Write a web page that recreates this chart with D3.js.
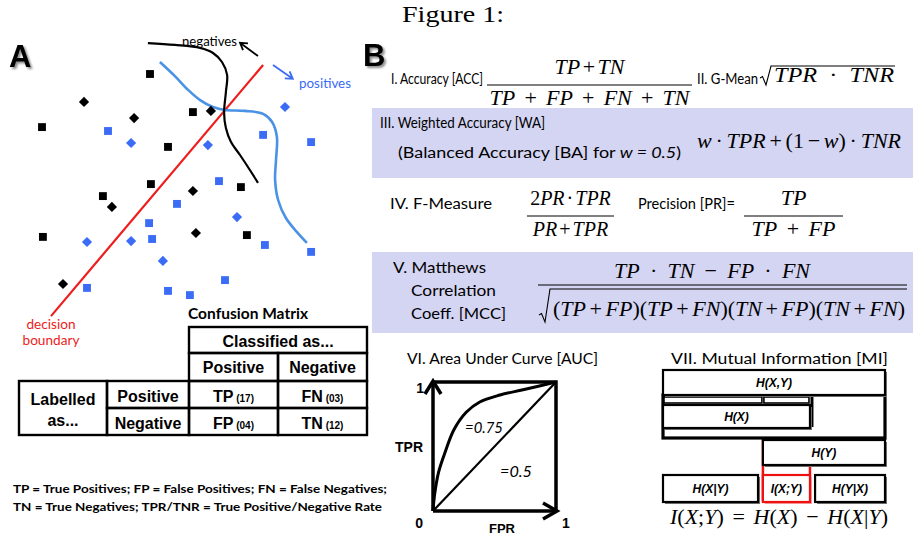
<!DOCTYPE html>
<html>
<head>
<meta charset="utf-8">
<script src="https://cdn.jsdelivr.net/npm/d3@7"></script>
<style>
  body { margin: 0; background: #fff; }
  svg { display: block; }
  text { white-space: pre; }
</style>
</head>
<body>
<svg id="fig" width="913" height="535"></svg>
<script>
// ---- panel A: feature space points (x, y in arbitrary 0-100 units)
const negSquares = [[40,82],[4,64.3],[54.3,69.3],[46,57.7],[40.3,45.3],[24.3,41.3],[70.3,44.3],[4.3,27.7],[72.3,28.3]];
const negDiamonds = [[18,72.7],[34.7,67.3],[60.3,69.7],[27.3,37.7],[54.3,43],[55.3,29],[11,12]];
const posSquares = [[26,63],[77.7,61.7],[93.7,59.3],[63,46.3],[49,38.7],[39.7,32.3],[40.7,27],[78.3,25],[93.7,22.7],[19,10.7],[65,13.3],[46,9.7],[53.3,8.3]];
const posDiamonds = [[85,71],[33.7,59],[59.3,58.3],[69,34.3],[19,26],[33.7,26.3],[44.3,19.7]];
const boundary = [[7,1.3],[77.7,85]];
const negCurve = [[39.3,92.3],[48.3,91.7],[56.7,90.7],[61,89],[64,86],[65.7,81.7],[65.3,76],[64.7,69],[65.3,64],[67,59.3],[70,55],[73.3,50],[76,45.7]];
const posCurve = [[43.3,86],[48.3,81.3],[52.7,76.7],[56.7,73.3],[61,71],[65,70],[71.7,69.7],[77.7,68.7],[80.7,66],[82.3,61],[82,53.3],[81.7,46.7],[82.7,40],[85.3,34],[89,29.3],[92.3,25.7]];

// ---- confusion matrix
const classLabels = ["Positive", "Negative"];
const cellCodes = [["TP", "FN"], ["FP", "TN"]];
const cellCounts = [["17", "03"], ["04", "12"]];

// ---- ROC curve (FPR, TPR)
const rocCurve = [[0,0],[0.012,0.12],[0.045,0.3],[0.1,0.46],[0.17,0.63],[0.27,0.765],[0.38,0.845],[0.545,0.899],[0.732,0.94],[1,1]];
const rocChance = [[0,0],[1,1]];

// ---- mutual information boxes (entropy as share of H(X,Y))
const miLabels = ["H(X,Y)", "H(X)", "H(Y)", "H(X|Y)", "I(X;Y)", "H(Y|X)"];
const miFrom = [0, 0, 0.45, 0, 0.45, 0.685];
const miTo = [1, 0.662, 1, 0.428, 0.662, 1];
const miRow = [0, 1, 2, 3, 3, 3];

const svg = d3.select("#fig");
const SANS = "Lato, 'Open Sans', sans-serif";
const ARIAL = "'Liberation Sans', Arial, sans-serif";
const SERIF = "'Liberation Serif', 'Times New Roman', serif";
const BLUE = "#3a6cf6";
const LAV = "#d4d4f3";

const defs = svg.append("defs");
defs.append("filter").attr("id", "shadow").attr("x", "-20%").attr("y", "-20%")
  .attr("width", "150%").attr("height", "150%")
  .append("feDropShadow").attr("dx", 2).attr("dy", 2).attr("stdDeviation", 1.2)
  .attr("flood-color", "#000").attr("flood-opacity", 0.45);

// plain text helper
function txt(g, s, x, y, o) {
  o = o || {};
  const t = g.append("text").attr("x", x).attr("y", y)
    .attr("font-family", o.family || SANS)
    .attr("font-size", o.size || 14)
    .attr("font-weight", o.weight || "normal")
    .attr("font-style", o.italic ? "italic" : "normal")
    .attr("text-anchor", o.anchor || "start")
    .attr("fill", o.fill || "#000")
    .text(s);
  if (o.len) t.attr("textLength", o.len).attr("lengthAdjust", "spacingAndGlyphs");
  return t;
}

// math helper: letters italic, digits & operators upright;
// width is fitted first through the spaces, then (a little) through the glyphs
function math(g, s, x, y, o) {
  o = o || {};
  const size = o.size || 22;
  const t = g.append("text").attr("x", x).attr("y", y)
    .attr("font-family", SERIF).attr("font-size", size)
    .attr("text-anchor", o.anchor || "start").attr("fill", "#000");
  s.split(/([A-Za-z]+)/).filter(d => d.length).forEach(d => {
    t.append("tspan").attr("font-style", /[A-Za-z]/.test(d) ? "italic" : "normal").text(d);
  });
  if (o.len) {
    const w = t.node().getComputedTextLength();
    const n = (s.match(/ /g) || []).length;
    let ws = n ? (o.len - w) / n : 0;
    ws = Math.max(-0.15 * size, Math.min(0.25 * size, ws));
    t.style("word-spacing", ws + "px");
    const w2 = t.node().getComputedTextLength();
    if (Math.abs(w2 - o.len) > 3) t.attr("textLength", o.len).attr("lengthAdjust", "spacingAndGlyphs");
  }
  return t;
}

function frac(g, num, den, x0, x1, yBar, o) {
  o = o || {};
  const cx = (x0 + x1) / 2;
  g.append("line").attr("x1", x0).attr("x2", x1).attr("y1", yBar).attr("y2", yBar)
    .attr("stroke", "#000").attr("stroke-width", 1);
  math(g, num, cx, yBar - 11, {anchor: "middle", size: o.size, len: o.numLen});
  math(g, den, cx, yBar + 20, {anchor: "middle", size: o.size, len: o.denLen});
}

function radical(g, x0, yTop, yBot, x1) {
  const p = d3.path();
  p.moveTo(x0, yBot - 7);
  p.lineTo(x0 + 2.5, yBot - 8.5);
  p.lineTo(x0 + 6, yBot);
  p.lineTo(x0 + 11, yTop);
  p.lineTo(x1, yTop);
  g.append("path").attr("d", p.toString()).attr("fill", "none")
    .attr("stroke", "#000").attr("stroke-width", 1.1);
}

// title
txt(svg, "Figure 1:", 402, 22, {family: SERIF, size: 24, len: 102});

// ================= Panel A =================
const A = svg.append("g");
txt(A, "A", 9, 67, {family: ARIAL, size: 31, weight: "bold"}).attr("filter", "url(#shadow)");

const ax = d3.scaleLinear().domain([0, 100]).range([30, 330]);
const ay = d3.scaleLinear().domain([0, 100]).range([320, 20]);
const curve = d3.line().x(d => ax(d[0])).y(d => ay(d[1])).curve(d3.curveCatmullRom);

A.append("path").attr("d", curve(boundary)).attr("stroke", "#ee1c1c")
  .attr("stroke-width", 2.2).attr("fill", "none");
A.append("path").attr("d", curve(posCurve)).attr("stroke", "#4a92e6")
  .attr("stroke-width", 2.6).attr("fill", "none");
A.append("path").attr("d", curve(negCurve)).attr("stroke", "#000")
  .attr("stroke-width", 2.2).attr("fill", "none");

const sq = d3.symbol(d3.symbolSquare, 62);
const dm = d3.symbol(d3.symbolSquare, 52);
function drawPts(data, sym, fill, rot) {
  A.selectAll(null).data(data).enter().append("path")
    .attr("d", sym)
    .attr("transform", d => "translate(" + ax(d[0]) + "," + ay(d[1]) + ")" + (rot ? " rotate(45)" : ""))
    .attr("fill", fill);
}
drawPts(negSquares, sq, "#000", false);
drawPts(negDiamonds, dm, "#000", true);
drawPts(posSquares, sq, BLUE, false);
drawPts(posDiamonds, dm, BLUE, true);

function arrow(p0, p1, color) {
  const x0 = ax(p0[0]), y0 = ay(p0[1]), x1 = ax(p1[0]), y1 = ay(p1[1]);
  const a = Math.atan2(y1 - y0, x1 - x0), h = 8;
  const p = d3.path();
  p.moveTo(x0, y0); p.lineTo(x1, y1);
  p.moveTo(x1 - h * Math.cos(a - 0.55), y1 - h * Math.sin(a - 0.55));
  p.lineTo(x1, y1);
  p.lineTo(x1 - h * Math.cos(a + 0.55), y1 - h * Math.sin(a + 0.55));
  A.append("path").attr("d", p.toString()).attr("fill", "none")
    .attr("stroke", color).attr("stroke-width", 1.8);
}
arrow([76, 88], [70, 92.4], "#000");
arrow([81, 85], [87.6, 80.4], BLUE);

txt(A, "negatives", 182, 46, {size: 13, len: 55});
txt(A, "positives", 299, 88, {size: 13, len: 52, fill: BLUE});
txt(A, "decision", 51, 329, {size: 13, anchor: "middle", fill: "#ee1c1c", len: 49});
txt(A, "boundary", 51, 345, {size: 13, anchor: "middle", fill: "#ee1c1c", len: 57});

// confusion matrix
txt(A, "Confusion Matrix", 188, 319, {size: 15, weight: "bold", len: 120});
const colX = d3.scaleBand().domain(classLabels).range([189, 367]);
const rowY = d3.scaleBand().domain(classLabels).range([381, 435]);
function cell(x, y, w, h) {
  A.append("rect").attr("x", x).attr("y", y).attr("width", w).attr("height", h)
    .attr("fill", "none").attr("stroke", "#000").attr("stroke-width", 2.4);
}
cell(189, 327, 178, 26);
txt(A, "Classified as...", 278, 347, {family: ARIAL, size: 16, weight: "bold", anchor: "middle"});
classLabels.forEach(c => {
  cell(colX(c), 353, colX.bandwidth(), 28);
  txt(A, c, colX(c) + colX.bandwidth() / 2, 373, {family: ARIAL, size: 16, weight: "bold", anchor: "middle"});
});
cell(19, 381, 88, 54);
txt(A, "Labelled", 63, 405, {family: ARIAL, size: 16, weight: "bold", anchor: "middle"});
txt(A, "as...", 63, 426, {family: ARIAL, size: 16, weight: "bold", anchor: "middle"});
classLabels.forEach((r, i) => {
  cell(107, rowY(r), 82, rowY.bandwidth());
  txt(A, r, 148, rowY(r) + 21, {family: ARIAL, size: 16, weight: "bold", anchor: "middle"});
  classLabels.forEach((c, j) => {
    cell(colX(c), rowY(r), colX.bandwidth(), rowY.bandwidth());
    const t = txt(A, cellCodes[i][j], colX(c) + colX.bandwidth() / 2, rowY(r) + 21,
      {family: ARIAL, size: 16, weight: "bold", anchor: "middle"});
    t.append("tspan").attr("font-size", 10).text(" (" + cellCounts[i][j] + ")");
  });
});

txt(A, "TP = True Positives; FP = False Positives; FN = False Negatives;", 13, 493, {size: 12, weight: "bold", len: 374});
txt(A, "TN = True Negatives; TPR/TNR = True Positive/Negative Rate", 13, 511, {size: 12, weight: "bold", len: 369});

// ================= Panel B =================
const B = svg.append("g");
B.append("rect").attr("x", 372).attr("y", 108).attr("width", 541).attr("height", 70).attr("fill", LAV);
B.append("rect").attr("x", 372).attr("y", 252).attr("width", 541).attr("height", 81).attr("fill", LAV);
txt(B, "B", 363, 66, {family: ARIAL, size: 31, weight: "bold"}).attr("filter", "url(#shadow)");

// I. accuracy, II. g-mean
txt(B, "I. Accuracy [ACC]", 391, 84, {size: 15.5, len: 92});
frac(B, "TP + TN", "TP + FP + FN + TN", 487, 692, 85, {numLen: 70, denLen: 200});
txt(B, "II. G-Mean", 697, 84, {size: 15.5, len: 61});
radical(B, 760, 66, 85, 895);
math(B, "TPR · TNR", 774, 82, {len: 120});

// III. weighted accuracy
txt(B, "III. Weighted Accuracy [WA]", 380, 128, {size: 15.5, len: 165});
const ba = txt(B, "(Balanced Accuracy [BA] for ", 398, 158, {size: 15.5});
ba.append("tspan").attr("font-style", "italic").text("w = 0.5");
ba.append("tspan").text(")");
ba.attr("textLength", 283).attr("lengthAdjust", "spacingAndGlyphs");
math(B, "w · TPR + (1 − w) · TNR", 697, 148, {len: 204});

// IV. f-measure, precision
txt(B, "IV. F-Measure", 390, 209, {size: 15.5, len: 102});
frac(B, "2PR · TPR", "PR + TPR", 527, 614, 216, {size: 20, numLen: 80, denLen: 74});
txt(B, "Precision [PR]=", 638, 209, {size: 15.5, len: 97});
frac(B, "TP", "TP + FP", 744, 843, 216, {denLen: 84});

// V. MCC
txt(B, "V. Matthews", 393, 273, {size: 16, len: 93});
txt(B, "Correlation", 411, 296, {size: 16, len: 85});
txt(B, "Coeff. [MCC]", 411, 319, {size: 16, len: 95});
B.append("line").attr("x1", 538).attr("x2", 907).attr("y1", 285).attr("y2", 285)
  .attr("stroke", "#000").attr("stroke-width", 1);
math(B, "TP · TN − FP · FN", 712, 278, {anchor: "middle", len: 196});
radical(B, 539, 289, 322, 907);
math(B, "(TP + FP)(TP + FN)(TN + FP)(TN + FN)", 553, 316, {len: 352});

// VI. AUC
txt(B, "VI. Area Under Curve [AUC]", 407, 364, {size: 16, len: 191});
const rx = d3.scaleLinear().domain([0, 1]).range([433, 556]);
const ry = d3.scaleLinear().domain([0, 1]).range([511, 382]);
const rline = d3.line().x(d => rx(d[0])).y(d => ry(d[1]));
B.append("path").attr("d", rline([[0, 1], [1, 1], [1, 0]])).attr("fill", "none")
  .attr("stroke", "#000").attr("stroke-width", 3.5);
B.append("path").attr("d", rline([[0, 0], [0, 1]])).attr("stroke", "#000").attr("stroke-width", 3.5);
B.append("path").attr("d", rline([[0, 0], [1, 0]])).attr("stroke", "#000").attr("stroke-width", 3.5);
// arrow heads
B.append("path").attr("d", "M" + (rx(0) - 8) + "," + (ry(1) + 12) + "L" + rx(0) + "," + (ry(1) - 1) + "L" + (rx(0) + 8) + "," + (ry(1) + 12))
  .attr("fill", "none").attr("stroke", "#000").attr("stroke-width", 3.5);
B.append("path").attr("d", "M" + (rx(1) - 13) + "," + (ry(0) - 8) + "L" + (rx(1) + 1) + "," + ry(0) + "L" + (rx(1) - 13) + "," + (ry(0) + 8))
  .attr("fill", "none").attr("stroke", "#000").attr("stroke-width", 3.5);
B.append("path").attr("d", rline(rocChance)).attr("stroke", "#000").attr("stroke-width", 2.2);
B.append("path").attr("d", rline.curve(d3.curveCatmullRom)(rocCurve)).attr("fill", "none")
  .attr("stroke", "#000").attr("stroke-width", 3);
txt(B, "1", rx(0) - 9, ry(1) + 11, {family: ARIAL, size: 14, weight: "bold", anchor: "end"});
txt(B, "TPR", rx(0) - 10, 452, {family: ARIAL, size: 14, weight: "bold", anchor: "end"});
txt(B, "0", rx(0) - 10, 528, {family: ARIAL, size: 14, weight: "bold", anchor: "end"});
txt(B, "1", rx(1) + 6, 528, {family: ARIAL, size: 14, weight: "bold"});
txt(B, "FPR", 502, 533, {family: ARIAL, size: 13, weight: "bold", anchor: "middle"});
txt(B, "=0.75", 465, 433, {size: 15, italic: true, len: 38});
txt(B, "=0.5", 500, 477, {size: 15, italic: true, len: 32});

// VII. mutual information
txt(B, "VII. Mutual Information [MI]", 671, 364, {size: 16, len: 217});
const mx = d3.scaleLinear().domain([0, 1]).range([663, 885]);
const my = d3.scaleLinear().domain([0, 3]).range([370, 475]);
const boxH = 25;
// red I(X;Y) column behind
B.append("rect").attr("x", mx(0.45)).attr("y", my(1) + 22).attr("width", mx(0.662) - mx(0.45))
  .attr("height", my(3) + boxH - my(1) - 22).attr("fill", "none").attr("stroke", "#ee1111").attr("stroke-width", 2.5);
// frame between H(X,Y) and H(Y)
B.append("rect").attr("x", mx(0)).attr("y", my(0) + boxH).attr("width", mx(1) - mx(0))
  .attr("height", my(2) - my(0) - boxH - 2).attr("fill", "#fff").attr("stroke", "#000").attr("stroke-width", 3.2);
B.append("rect").attr("x", mx(0) + 1).attr("y", my(0) + boxH + 2).attr("width", mx(0.45) - mx(0) - 2)
  .attr("height", 6).attr("fill", "#fff").attr("stroke", "#000").attr("stroke-width", 1.6);
B.append("rect").attr("x", mx(0.45) + 1).attr("y", my(0) + boxH + 2).attr("width", mx(0.662) - mx(0.45) - 2)
  .attr("height", 6).attr("fill", "#fff").attr("stroke", "#000").attr("stroke-width", 1.6);
B.append("line").attr("x1", mx(0.662) + 2).attr("x2", mx(0.662) + 2).attr("y1", my(0) + boxH).attr("y2", my(1) + 22)
  .attr("stroke", "#000").attr("stroke-width", 3);
miLabels.forEach((lab, i) => {
  const x0 = mx(miFrom[i]), x1 = mx(miTo[i]), y0 = my(miRow[i]);
  const h = miRow[i] === 1 ? 23 : (miRow[i] === 3 ? 27 : boxH);
  const red = lab === "I(X;Y)";
  B.append("rect").attr("x", x0 + 2).attr("y", y0 + 2).attr("width", x1 - x0).attr("height", h)
    .attr("fill", red ? "#f4a0a0" : "#777");
  B.append("rect").attr("x", x0).attr("y", y0).attr("width", x1 - x0).attr("height", h)
    .attr("fill", "#fff").attr("stroke", red ? "#ee1111" : "#000").attr("stroke-width", 2.2);
  txt(B, lab, (x0 + x1) / 2, y0 + h / 2 + 4.5, {family: ARIAL, size: 12, weight: "bold", italic: true, anchor: "middle"});
});
math(B, "I(X;Y) = H(X) − H(X|Y)", 670, 524, {size: 22, len: 218});
</script>
</body>
</html>
